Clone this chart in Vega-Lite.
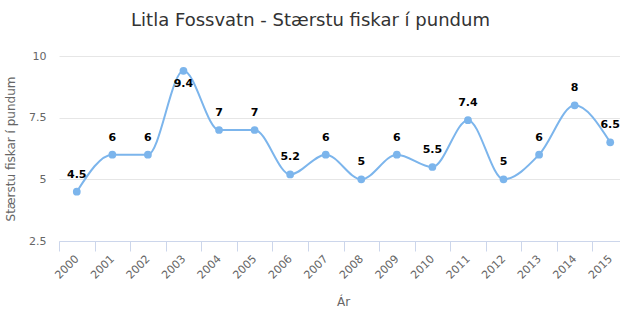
{
  "$schema": "https://vega.github.io/schema/vega-lite/v6.json",
  "autosize": "none",
  "width": 561,
  "height": 185,
  "padding": {"left": 59, "top": 56, "right": 0, "bottom": 89},
  "background": "#ffffff",
  "config": {
    "font": "DejaVu Sans",
    "view": {"stroke": null}
  },
  "title": {
    "text": "Litla Fossvatn - Stærstu fiskar í pundum",
    "fontSize": 18,
    "fontWeight": "normal",
    "color": "#333333",
    "font": "DejaVu Sans",
    "anchor": "middle",
    "frame": "group",
    "baseline": "alphabetic",
    "offset": 6,
    "dx": -29
  },
  "data": {
    "values": [
      {"year": "2000", "fish": 4.5},
      {"year": "2001", "fish": 6},
      {"year": "2002", "fish": 6},
      {"year": "2003", "fish": 9.4},
      {"year": "2004", "fish": 7},
      {"year": "2005", "fish": 7},
      {"year": "2006", "fish": 5.2},
      {"year": "2007", "fish": 6},
      {"year": "2008", "fish": 5},
      {"year": "2009", "fish": 6},
      {"year": "2010", "fish": 5.5},
      {"year": "2011", "fish": 7.4},
      {"year": "2012", "fish": 5},
      {"year": "2013", "fish": 6},
      {"year": "2014", "fish": 8},
      {"year": "2015", "fish": 6.5}
    ]
  },
  "encoding": {
    "x": {
      "field": "year",
      "type": "ordinal",
      "sort": null,
      "scale": {"type": "band", "paddingInner": 0, "paddingOuter": 0, "range": [0, 569]},
      "axis": {
        "title": "Ár",
        "titleFont": "DejaVu Sans",
        "titleFontSize": 12,
        "titleFontWeight": "normal",
        "titleColor": "#666666",
        "titleX": 284,
        "titleY": 64,
        "titleBaseline": "alphabetic",
        "titleAnchor": "middle",
        "titleAlign": "center",
        "labelAngle": -45,
        "labelAlign": "right",
        "labelBaseline": "middle",
        "labelFontSize": 11,
        "labelColor": "#666666",
        "labelPadding": 6,
        "tickBand": "extent",
        "tickSize": 10,
        "tickColor": "#ccd6eb",
        "tickWidth": 1,
        "domainColor": "#ccd6eb",
        "domainWidth": 1,
        "grid": false,
        "labelOverlap": false
      }
    },
    "y": {
      "field": "fish",
      "type": "quantitative",
      "scale": {"domain": [2.5, 10], "nice": false, "zero": false},
      "axis": {
        "title": "Stærstu fiskar í pundum",
        "titleFont": "DejaVu Sans",
        "titleFontSize": 12,
        "titleFontWeight": "normal",
        "titleColor": "#666666",
        "titleX": -49,
        "titleAlign": "center",
        "titleBaseline": "middle",
        "values": [2.5, 5, 7.5, 10],
        "labelFontSize": 11,
        "labelColor": "#666666",
        "labelPadding": 13,
        "tickSize": 0,
        "domain": false,
        "grid": true,
        "gridColor": "#e6e6e6",
        "gridWidth": 1,
        "format": ".2~r"
      }
    }
  },
  "layer": [
    {
      "mark": {"type": "line", "interpolate": "monotone", "color": "#7cb5ec", "strokeWidth": 2, "clip": false}
    },
    {
      "mark": {"type": "point", "filled": true, "opacity": 1, "color": "#7cb5ec", "size": 60, "clip": false}
    },
    {
      "transform": [{"filter": "datum.fish < 9"}],
      "mark": {"type": "text", "fontSize": 11, "fontWeight": "bold", "color": "#000000", "dy": -17, "baseline": "middle", "clip": false},
      "encoding": {"text": {"field": "fish", "type": "quantitative", "format": "~g"}}
    },
    {
      "transform": [{"filter": "datum.fish >= 9"}],
      "mark": {"type": "text", "fontSize": 11, "fontWeight": "bold", "color": "#000000", "dy": 13, "baseline": "middle", "clip": false},
      "encoding": {"text": {"field": "fish", "type": "quantitative", "format": "~g"}}
    }
  ]
}
